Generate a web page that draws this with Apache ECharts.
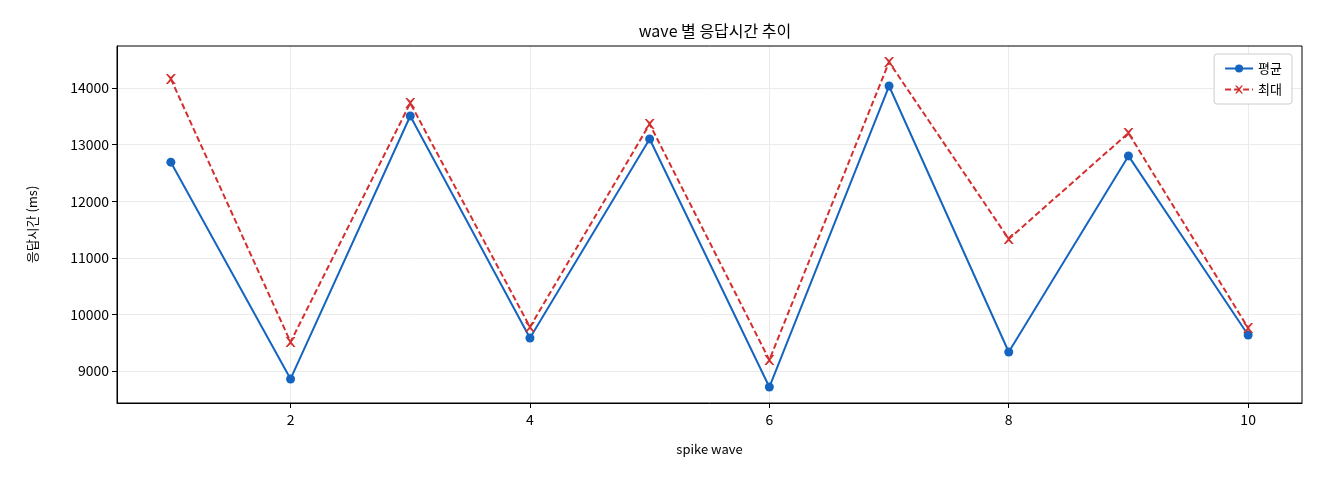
<!DOCTYPE html>
<html><head><meta charset="utf-8">
<script src="https://cdn.jsdelivr.net/npm/echarts@6/dist/echarts.min.js"></script>
<style>html,body{margin:0;background:#fff}#c{width:1320px;height:480px}</style>
</head><body><div id="c"></div>
<script>
const waves = [1,2,3,4,5,6,7,8,9,10];
const avgMs = [12690,8860,13505,9583,13100,8717,14035,9336,12800,9636];
const maxMs = [14160,9512,13735,9777,13364,9194,14459,11332,13205,9760];
const xTicks = [2,4,6,8,10];
const yTicks = [9000,10000,11000,12000,13000,14000];
const font = '"Noto Sans CJK KR", "DejaVu Sans", sans-serif';
const chart = echarts.init(document.getElementById('c'));
chart.setOption({
  animation:false,
  textStyle:{fontFamily:font},
  title:{text:'wave 별 응답시간 추이',left:710,top:18,textAlign:'center',textStyle:{fontFamily:font,fontSize:16,fontWeight:'normal',color:'#000'}},
  grid:{left:117,right:18,top:46,bottom:77},
  legend:{right:28,top:54,orient:'vertical',itemGap:8,itemWidth:28,itemHeight:10,
    backgroundColor:'#fff',borderColor:'#ccc',borderWidth:1,borderRadius:3,padding:[8,10],
    textStyle:{fontFamily:font,fontSize:13,color:'#000'},
    data:['평균','최대']},
  xAxis:{type:'value',min:0.55,max:10.45,name:'spike wave',nameLocation:'middle',nameGap:40,
    nameTextStyle:{fontFamily:font,fontSize:13,color:'#000'},
    axisLine:{onZero:false,lineStyle:{color:'#000'}},
    axisTick:{show:true,customValues:xTicks,lineStyle:{color:'#000'}},
    axisLabel:{customValues:xTicks,color:'#000',fontSize:14,fontFamily:font,margin:10},
    splitLine:{show:true,lineStyle:{color:'#ebebeb'}}},
  yAxis:{type:'value',min:8435,max:14742,name:'응답시간 (ms)',nameLocation:'middle',nameGap:78,
    nameTextStyle:{fontFamily:font,fontSize:13,color:'#000'},
    axisLine:{show:true,lineStyle:{color:'#000'}},
    axisTick:{show:true,customValues:yTicks,lineStyle:{color:'#000'}},
    axisLabel:{customValues:yTicks,color:'#000',fontSize:14,fontFamily:font,formatter:v=>String(v)},
    splitLine:{show:true,lineStyle:{color:'#ebebeb'}}},
  series:[
    {name:'평균',type:'line',data:waves.map((w,i)=>[w,avgMs[i]]),color:'#1565c0',
     symbol:'circle',symbolSize:9,lineStyle:{width:2,color:'#1565c0'},itemStyle:{color:'#1565c0'}},
    {name:'최대',type:'line',data:waves.map((w,i)=>[w,maxMs[i]]),color:'#d32f2f',
     symbol:'path://M0,0L2,0L5,3L8,0L10,0L6,5L10,10L8,10L5,7L2,10L0,10L4,5Z',symbolSize:10,
     lineStyle:{width:2,type:[6,3],color:'#d32f2f'},itemStyle:{color:'#d32f2f'}}
  ]
});
chart.setOption({graphic:[{type:'rect',shape:{x:117,y:46,width:1185,height:357},style:{fill:null,stroke:'#000',lineWidth:1},silent:true}]});
</script></body></html>
